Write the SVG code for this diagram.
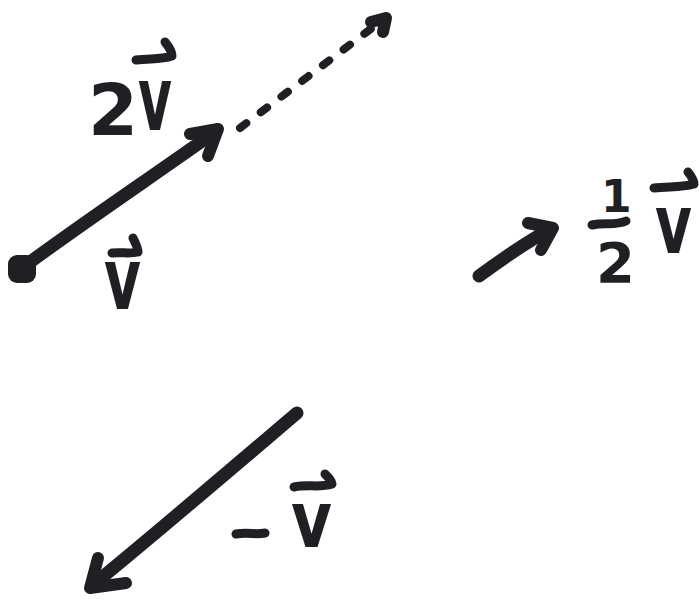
<svg xmlns="http://www.w3.org/2000/svg" width="699" height="601" viewBox="0 0 699 601">
<style>
.ink{fill:none;stroke:#1f2024;stroke-linecap:round;stroke-linejoin:round}
.shaft{stroke-width:13}
.head{stroke-width:12}
.dash{stroke-width:8;stroke-dasharray:8 18}
.ov{stroke-width:9}
.lbl{font-family:"DejaVu Sans",sans-serif;font-weight:bold;fill:#1f2024}
</style>
<rect width="699" height="601" fill="#ffffff"/>
<g id="connectors">
  <g id="vec-v">
    <path class="ink shaft" d="M22,268 C80,225 150,178 212,134"/>
    <path class="ink head" d="M190,134 L218,129 L208,156"/>
  </g>
  <g id="vec-2v-ext">
    <path class="ink dash" d="M240,128 L372,28"/>
    <path class="ink head" d="M371,22 L386,18 L383,32"/>
  </g>
  <g id="vec-half">
    <path class="ink shaft" d="M479,276 C505,257 530,240 549,230"/>
    <path class="ink head" d="M528,223 L553,228 L541,250"/>
  </g>
  <g id="vec-neg">
    <path class="ink shaft" d="M297,413 C230,470 160,530 94,584"/>
    <path class="ink head" d="M98,558 L90,588 L126,583"/>
  </g>
</g>
<g id="origin">
  <rect x="8" y="255" width="28" height="28" rx="9" fill="#1f2024"/>
</g>
<g id="label-2v">
  <text class="lbl" x="88" y="135" font-size="72">2</text>
  <text class="lbl" transform="translate(138,130) scale(1,1.3)" font-size="68" textLength="34" lengthAdjust="spacingAndGlyphs">v</text>
  <path class="ink ov" d="M136,60 C150,58 160,60 172,56 M165,42 C170,48 172,52 172,56"/>
</g>
<g id="label-v">
  <text class="lbl" transform="translate(104,309) scale(1,1.25)" font-size="68" textLength="37" lengthAdjust="spacingAndGlyphs">v</text>
  <path class="ink ov" d="M112,253 C122,252 130,254 138,252 M133,238 C136,244 138,248 138,252"/>
</g>
<g id="label-half">
  <text class="lbl" x="601" y="212" font-size="44">1</text>
  <path class="ink ov" d="M592,225 C605,222 615,226 626,221"/>
  <text class="lbl" x="596" y="282" font-size="56">2</text>
  <text class="lbl" transform="translate(655,253) scale(1,1.25)" font-size="66" textLength="37" lengthAdjust="spacingAndGlyphs">v</text>
  <path class="ink ov" d="M654,188 C668,186 680,188 694,184 M688,172 C692,177 694,180 694,184"/>
</g>
<g id="label-neg">
  <path class="ink ov" d="M236,534 C248,532 256,535 265,533"/>
  <text class="lbl" transform="translate(291,547) scale(1,1.2)" font-size="66" textLength="41" lengthAdjust="spacingAndGlyphs">v</text>
  <path class="ink ov" d="M294,487 C308,484 320,488 332,484 M325,474 C329,478 332,481 332,484"/>
</g>
</svg>
